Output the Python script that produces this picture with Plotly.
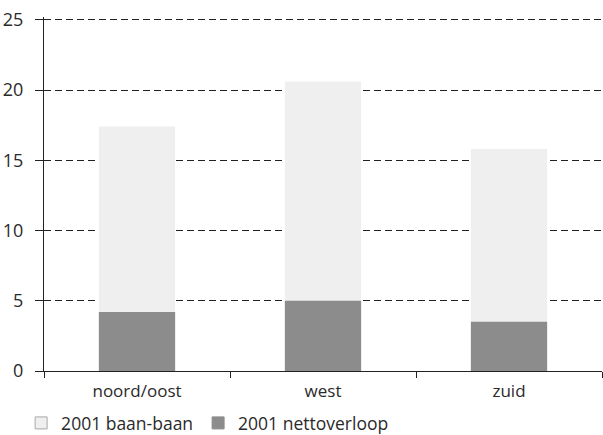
import plotly.graph_objects as go

# Regio's en waarden (in procenten)
regios = ["noord/oost", "west", "zuid"]
baan_baan = [17.4, 20.6, 15.8]
nettoverloop = [4.2, 5.0, 3.5]
y_ticks = [0, 5, 10, 15, 20, 25]

namen = ["2001 baan-baan", "2001 nettoverloop"]
kleuren = ["#efefef", "#8c8c8c"]
randen = ["#a8a8a8", "#8c8c8c"]

font_family = "Open Sans, Noto Sans, sans-serif"
tekst_kleur = "#2a2a2a"

fig = go.Figure()
for naam, waarden, kleur in zip(namen, [baan_baan, nettoverloop], kleuren):
    fig.add_trace(go.Bar(
        x=regios, y=waarden, name=naam, showlegend=False,
        marker=dict(color=kleur, line=dict(width=0)),
        width=0.41,
    ))

# Legenda-symbolen: vierkantjes met een dunne rand
for naam, kleur, rand in zip(namen, kleuren, randen):
    fig.add_trace(go.Scatter(
        x=[None], y=[None], mode="markers", name=naam,
        marker=dict(symbol="square", size=12, color=kleur,
                    line=dict(color=rand, width=1)),
    ))

fig.update_layout(
    width=603, height=435,
    margin=dict(l=44, r=1, t=17, b=64, autoexpand=False),
    barmode="overlay",
    paper_bgcolor="white", plot_bgcolor="white",
    font=dict(family=font_family, size=17, color=tekst_kleur),
    showlegend=True,
    legend=dict(
        orientation="h", x=-0.041, xanchor="left", y=-0.147, yanchor="middle",
        bgcolor="rgba(0,0,0,0)",
        font=dict(size=17.5, color=tekst_kleur), traceorder="normal",
        itemwidth=30, tracegroupgap=0,
    ),
    xaxis=dict(
        range=[-0.5, 2.5], showline=True, linecolor="#222222", linewidth=1,
        ticks="outside", tickson="boundaries", ticklen=6, tickcolor="#222222",
        showgrid=False, tickfont=dict(size=17), ticklabelstandoff=5,
    ),
    yaxis=dict(
        range=[0, 25.2], tickvals=y_ticks, showline=True, linecolor="#222222",
        linewidth=1, ticks="outside", ticklen=8, tickcolor="#222222",
        showgrid=True, gridcolor="#222222", gridwidth=1, griddash="7px,4px",
        zeroline=False, tickfont=dict(size=18), ticklabelstandoff=8,
    ),
)

fig.write_html("out.html")
